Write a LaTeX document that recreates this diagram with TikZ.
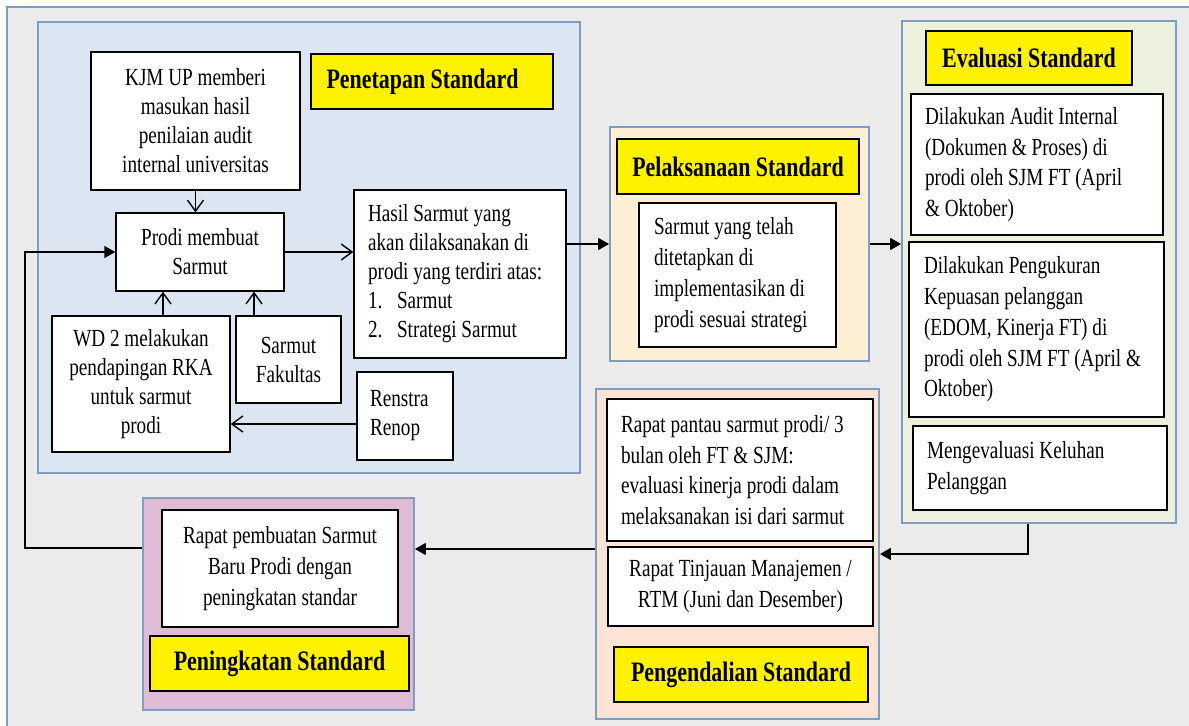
\documentclass[tikz,border=0pt]{standalone}
\usepackage{fontspec}
\setmainfont{Liberation Serif}[FakeStretch=0.78]
\usetikzlibrary{arrows.meta}
\definecolor{framegray}{HTML}{EBEBEB}
\definecolor{edgeblue}{HTML}{7F9DC2}
\definecolor{penblue}{HTML}{DCE6F2}
\definecolor{pelcream}{HTML}{FDEFD4}
\definecolor{evgreen}{HTML}{EBF1DE}
\definecolor{pengpeach}{HTML}{FBE4D6}
\definecolor{pnkmauve}{HTML}{E0BCD4}

\begin{document}
\begin{tikzpicture}[x=0.02cm, y=-0.02cm]

\tikzstyle{every node} = [rectangle, inner sep=2pt, line width=0.8pt]
\tikzstyle{panel} = [draw=edgeblue, line width=1pt]
\tikzstyle{txtbox} = [draw, fill=white, align=center, font=\fontsize{14}{17.5}\selectfont]
\tikzstyle{lbox} = [txtbox, font=\fontsize{14}{16.5}\selectfont]
\tikzstyle{stdlabel} = [draw, fill=yellow, align=center, font=\bfseries\fontsize{16}{19}\selectfont]
\tikzstyle{feed} = [-{Straight Barb[length=2.2mm, width=3.2mm]}, line width=0.8pt]
\tikzstyle{flow} = [-{Triangle[length=2.2mm, width=2.4mm]}, line width=0.8pt]

\useasboundingbox (0,0) rectangle (1189,726);
\fill[framegray] (7,7) rectangle (1189,726);
\draw[edgeblue, line width=0.8pt] (7,726) -- (7,7) -- (1189,7);

\node[panel, fill=penblue, minimum width=10.84cm, minimum height=9.02cm] (penbg) at (309,247.5) {};
\node[panel, fill=pelcream, minimum width=5.18cm, minimum height=4.68cm] (pelbg) at (739.5,244) {};
\node[panel, fill=evgreen, minimum width=5.48cm, minimum height=10.04cm] (evbg) at (1039,272) {};
\node[panel, fill=pengpeach, minimum width=5.66cm, minimum height=6.60cm] (pengbg) at (737.5,554) {};
\node[panel, fill=pnkmauve, minimum width=5.42cm, minimum height=4.24cm] (pnkbg) at (278.5,604) {};

\node[lbox, minimum width=4.18cm, minimum height=2.76cm] (kjm) at (195.5,121) {KJM UP memberi\\masukan hasil\\penilaian audit\\internal universitas};
\node[stdlabel, minimum width=4.84cm, minimum height=1.10cm] (penetapan) at (432,81.5) {Penetapan Standard\hspace*{0.38cm}};
\node[lbox, minimum width=3.36cm, minimum height=1.56cm] (prodi) at (200,252) {Prodi membuat\\Sarmut};
\node[lbox, align=flush left, text width=3.68cm, inner xsep=0.28cm, minimum height=3.36cm] (hasil) at (460,274) {Hasil Sarmut yang\\akan dilaksanakan di\\prodi yang terdiri atas:\\\makebox[0.58cm][l]{1.}Sarmut\\\makebox[0.58cm][l]{2.}Strategi Sarmut};
\node[lbox, minimum width=3.56cm, minimum height=2.72cm] (wd2) at (141,384) {WD 2 melakukan\\pendapingan RKA\\untuk sarmut\\prodi};
\node[lbox, minimum width=2.10cm, minimum height=1.74cm] (fakultas) at (288.5,359.5) {Sarmut\\Fakultas};
\node[lbox, align=flush left, text width=1.40cm, inner xsep=0.26cm, minimum height=1.76cm] (renstra) at (405,416) {Renstra\\Renop};

\node[stdlabel, minimum width=4.84cm, minimum height=1.10cm] (pelaksanaan) at (738,166.5) {Pelaksanaan Standard};
\node[txtbox, align=flush left, text width=3.34cm, inner xsep=0.30cm, minimum height=2.88cm] (telah) at (737.5,275) {Sarmut yang telah\\ditetapkan di\\implementasikan di\\prodi sesuai strategi};

\node[stdlabel, minimum width=4.12cm, minimum height=1.08cm] (evaluasi) at (1029,58) {Evaluasi Standard};
\node[txtbox, align=flush left, text width=4.48cm, inner xsep=0.28cm, minimum height=2.82cm] (audit) at (1037,164.5) {Dilakukan Audit Internal\\(Dokumen \& Proses) di\\prodi oleh SJM FT (April\\\& Oktober)};
\node[txtbox, align=flush left, text width=4.50cm, inner xsep=0.30cm, minimum height=3.50cm] (ukur) at (1036.5,329.5) {Dilakukan Pengukuran\\Kepuasan pelanggan\\(EDOM, Kinerja FT) di\\prodi oleh SJM FT (April \&\\Oktober)};
\node[txtbox, align=flush left, text width=4.52cm, inner xsep=0.28cm, minimum height=1.68cm] (keluhan) at (1040,468) {Mengevaluasi Keluhan\\Pelanggan};

\node[txtbox, align=flush left, text width=4.76cm, inner xsep=0.28cm, minimum height=2.84cm] (pantau) at (740,470) {Rapat pantau sarmut prodi/ 3\\bulan oleh FT \& SJM:\\evaluasi kinerja prodi dalam\\melaksanakan isi dari sarmut};
\node[txtbox, minimum width=5.30cm, minimum height=1.58cm] (rtm) at (740.5,586.5) {Rapat Tinjauan Manajemen /\\RTM (Juni dan Desember)};
\node[stdlabel, minimum width=5.08cm, minimum height=1.10cm] (pengendalian) at (741,674.5) {Pengendalian Standard};

\node[txtbox, minimum width=4.72cm, minimum height=2.34cm] (pembuatan) at (280,568.5) {Rapat pembuatan Sarmut\\Baru Prodi dengan\\peningkatan standar};
\node[stdlabel, minimum width=5.18cm, minimum height=1.10cm] (peningkatan) at (279.5,663.5) {Peningkatan Standard};

\draw[feed] (kjm.south) -- (kjm.south |- prodi.north);
\draw[feed] ([xshift=0.44cm]wd2.north) -- ([xshift=0.44cm]wd2.north |- prodi.south);
\draw[feed] ([xshift=-0.69cm]fakultas.north) -- ([xshift=-0.69cm]fakultas.north |- prodi.south);
\draw[feed] (prodi.east) -- (prodi.east -| hasil.west);
\draw[feed] ([yshift=-0.16cm]renstra.west) -- ([yshift=-0.16cm]renstra.west -| wd2.east);

\draw[flow] (pelbg.west -| hasil.east) -- (pelbg.west);
\draw[flow] (pelbg.east) -- (pelbg.east -| evbg.west);
\draw[flow] ([xshift=-0.22cm]evbg.south) |- (pengbg.east);
\draw[flow] ([yshift=0.1cm]pengbg.west) -- ([yshift=0.1cm]pengbg.west -| pnkbg.east);

\coordinate (back) at (25,400);
\draw[flow] ([yshift=1.12cm]pnkbg.west) -| (back) |- (prodi.west);
\end{tikzpicture}
\end{document}
